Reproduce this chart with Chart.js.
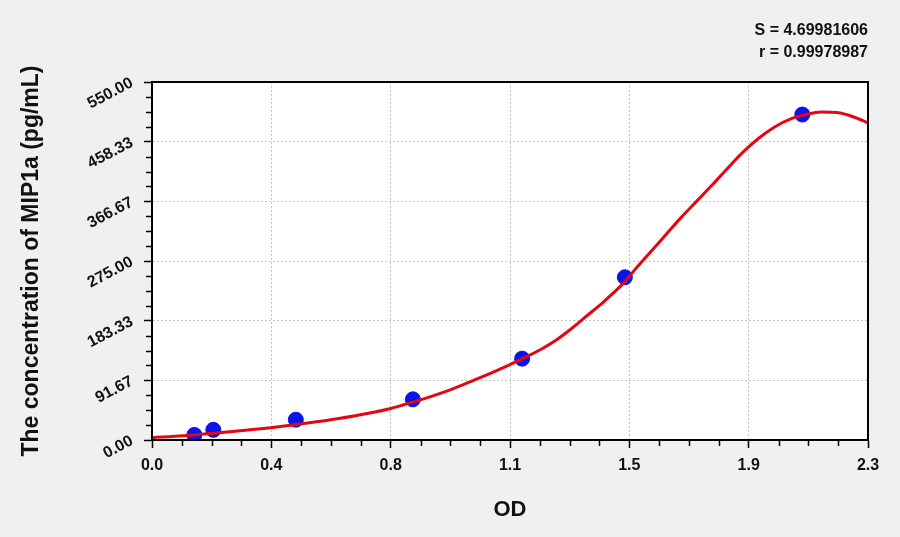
<!DOCTYPE html>
<html><head><meta charset="utf-8">
<script src="https://cdn.jsdelivr.net/npm/chart.js@4.4.1/dist/chart.umd.min.js"></script>
<style>html,body{margin:0;padding:0;background:#f0f0f0;overflow:hidden;}</style>
</head><body>
<canvas id="c" width="900" height="537" style="width:900px;height:537px;display:block"></canvas>
<script>
// Standard points (OD vs concentration)
const odValues   = [0.136, 0.197, 0.462, 0.838, 1.189, 1.519, 2.089];
const concValues = [7.8, 15.6, 31.2, 62.5, 125, 250, 500];
// Fitted curve
const curveOD   = [0, 0.1, 0.2, 0.3, 0.4, 0.5, 0.6, 0.7, 0.767, 0.84, 0.9, 0.96, 1.0, 1.06, 1.1, 1.15, 1.19, 1.25, 1.3, 1.35, 1.4, 1.45, 1.5, 1.52, 1.55, 1.6, 1.65, 1.7, 1.75, 1.8, 1.85, 1.9, 1.95, 2.0, 2.05, 2.1, 2.15, 2.2, 2.25, 2.3];
const curveConc = [3.5, 6.5, 10.5, 15, 20, 26, 33, 41.5, 48.5, 58.5, 67.5, 77.5, 85, 97, 105, 116, 125, 139.5, 154, 172, 192, 212, 234, 244, 261, 288, 315, 342, 367, 392, 418, 443, 464, 481, 493, 500, 504, 503, 497, 487];
// Axis ticks
const xTickValues = [0, 0.38333, 0.76667, 1.15, 1.53333, 1.91667, 2.3];
const xTickLabels = ['0.0', '0.4', '0.8', '1.1', '1.5', '1.9', '2.3'];
const yTickValues = [0, 91.667, 183.333, 275, 366.667, 458.333, 550];
const yTickLabels = ['0.00', '91.67', '183.33', '275.00', '366.67', '458.33', '550.00'];
const fitStats = ['S = 4.69981606', 'r = 0.99978987'];
const xTitle = 'OD';
const yTitle = 'The concentration of MIP1a (pg/mL)';

const FONT = "'Liberation Sans', Arial, sans-serif";

const decor = {
  id: 'decor',
  beforeDraw(chart) {
    const {ctx, chartArea: a} = chart;
    ctx.save();
    ctx.fillStyle = '#f0f0f0';
    ctx.fillRect(0, 0, chart.width, chart.height);
    ctx.fillStyle = '#ffffff';
    ctx.fillRect(a.left, a.top, a.right - a.left, a.bottom - a.top);
    ctx.restore();
  },
  afterDraw(chart) {
    const {ctx, chartArea: a, scales} = chart;
    ctx.save();
    // minor ticks
    ctx.strokeStyle = '#000';
    ctx.lineWidth = 1.5;
    ctx.beginPath();
    for (let i = 0; i < xTickValues.length - 1; i++) {
      for (let k = 1; k < 4; k++) {
        const v = xTickValues[i] + (xTickValues[i + 1] - xTickValues[i]) * k / 4;
        const px = Math.round(scales.x.getPixelForValue(v)) + 0.5;
        ctx.moveTo(px, a.bottom);
        ctx.lineTo(px, a.bottom + 6);
      }
    }
    for (let i = 0; i < yTickValues.length - 1; i++) {
      for (let k = 1; k < 4; k++) {
        const v = yTickValues[i] + (yTickValues[i + 1] - yTickValues[i]) * k / 4;
        const py = Math.round(scales.y.getPixelForValue(v)) + 0.5;
        ctx.moveTo(a.left, py);
        ctx.lineTo(a.left - 6, py);
      }
    }
    ctx.stroke();
    // frame
    ctx.lineWidth = 2;
    ctx.strokeRect(a.left, a.top, a.right - a.left, a.bottom - a.top);
    // fit statistics
    ctx.fillStyle = '#111';
    ctx.font = 'bold 16px ' + FONT;
    ctx.textAlign = 'right';
    ctx.textBaseline = 'alphabetic';
    fitStats.forEach((t, i) => ctx.fillText(t, a.right, 35 + i * 21.7));
    ctx.restore();
  }
};

new Chart(document.getElementById('c'), {
  type: 'scatter',
  data: {
    datasets: [
      {
        label: 'fit',
        data: curveOD.map((x, i) => ({x, y: curveConc[i]})),
        showLine: true,
        borderColor: '#e30613',
        borderWidth: 3,
        pointRadius: 0,
        cubicInterpolationMode: 'monotone',
        fill: false
      },
      {
        label: 'standards',
        data: odValues.map((x, i) => ({x, y: concValues[i]})),
        showLine: false,
        pointRadius: 7.5,
        pointBackgroundColor: '#0a14e6',
        pointBorderColor: '#0a14e6',
        pointBorderWidth: 1
      }
    ]
  },
  options: {
    responsive: false,
    animation: false,
    devicePixelRatio: 1,
    layout: {padding: {left: 0, right: 32, top: 82, bottom: 0}},
    plugins: {legend: {display: false}, tooltip: {enabled: false}, title: {display: false}},
    scales: {
      x: {
        type: 'linear', min: 0, max: 2.3,
        afterBuildTicks(s) { s.ticks = xTickValues.map(v => ({value: v})); },
        afterFit(s) { s.height = 97; },
        ticks: {
          callback: (v, i) => xTickLabels[i],
          color: '#111', font: {family: FONT, size: 16, weight: 'bold'}, padding: 8,
          maxRotation: 0, minRotation: 0, autoSkip: false
        },
        grid: {color: '#c4c4c4', lineWidth: 1, tickColor: '#000', tickWidth: 1.5, tickLength: 8},
        border: {display: true, color: '#000', width: 2, dash: [2, 2]},
        title: {display: true, text: xTitle, color: '#111', font: {family: FONT, size: 22, weight: 'bold'}, padding: {top: 0, bottom: 14}}
      },
      y: {
        type: 'linear', min: 0, max: 550,
        afterBuildTicks(s) { s.ticks = yTickValues.map(v => ({value: v})); },
        afterFit(s) { s.width = 152; },
        ticks: {
          callback: (v, i) => yTickLabels[i],
          color: '#111', font: {family: FONT, size: 16, weight: 'bold'}, padding: 12,
          minRotation: 28, maxRotation: 28, autoSkip: false
        },
        grid: {color: '#c4c4c4', lineWidth: 1, tickColor: '#000', tickWidth: 1.5, tickLength: 8},
        border: {display: true, color: '#000', width: 2, dash: [2, 2]},
        title: {display: true, text: yTitle, color: '#111', font: {family: FONT, size: 23, weight: 'bold'}, padding: {top: 18, bottom: 0}}
      }
    }
  },
  plugins: [decor]
});
</script>
</body></html>
